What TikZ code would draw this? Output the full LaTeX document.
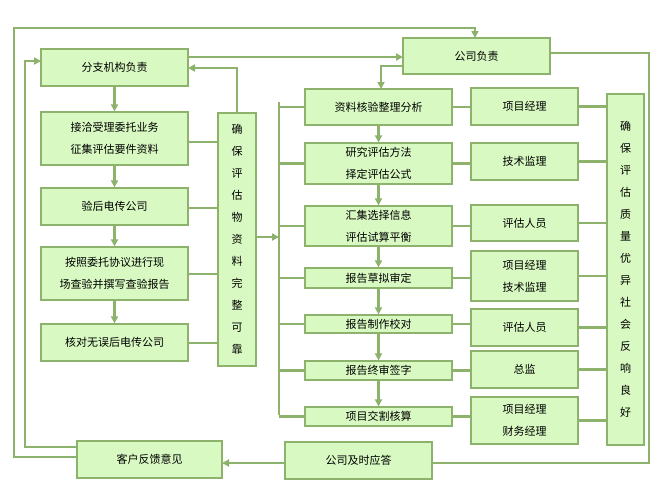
\documentclass[tikz,border=0pt]{standalone}
\usepackage{fontspec}
\setmainfont{Noto Sans CJK SC}
\usetikzlibrary{arrows.meta}
\definecolor{bfill}{HTML}{D8F9C2}
\definecolor{bline}{HTML}{8CB26C}
\tikzset{
 bx/.style={draw=bline,fill=bfill,line width=1.2pt,inner sep=0pt,align=center,font=\fontsize{11}{22}\selectfont},
 ln/.style={draw=bline,line width=2.2pt},
 ar/.style={ln,-{Triangle[length=7pt,width=7pt]}},
}
\newcommand{\bxat}[5]{\node[bx,minimum width=#3-#2,minimum height=#5-#4] (#1) at ({(#2+#3)/2},{(#4+#5)/2})}
\begin{document}
\begin{tikzpicture}[x=1pt,y=-1pt]
\useasboundingbox (0,0) rectangle (658,488);
% left
\bxat{a0}{41}{188}{49}{86}{分支机构负责};
\bxat{a1}{41}{188}{112}{165}{接洽受理委托业务\\征集评估要件资料};
\bxat{a2}{41}{188}{188}{225}{验后电传公司};
\bxat{a3}{41}{188}{247}{300}{按照委托协议进行现\\场查验并撰写查验报告};
\bxat{a4}{41}{188}{324}{361}{核对无误后电传公司};
\bxat{col}{218}{256}{113}{366}{\fontsize{11}{23}\selectfont 确\\保\\评\\估\\物\\资\\料\\完\\整\\可\\靠};
% middle
\bxat{gs}{403}{550}{38}{74}{公司负责};
\bxat{m1}{305}{452}{89}{125}{资料核验整理分析};
\bxat{m2}{305}{452}{143}{184}{\fontsize{11}{20}\selectfont 研究评估方法\\择定评估公式};
\bxat{m3}{305}{452}{206}{246}{\fontsize{11}{24}\selectfont 汇集选择信息\\评估试算平衡};
\bxat{m4}{305}{452}{268}{288}{报告草拟审定};
\bxat{m5}{305}{452}{315}{333}{报告制作校对};
\bxat{m6}{305}{452}{361}{380}{报告终审签字};
\bxat{m7}{305}{452}{407}{426}{项目交割核算};
% right
\bxat{r1}{471}{578}{88}{125}{项目经理};
\bxat{r2}{471}{578}{143}{180}{技术监理};
\bxat{r3}{471}{578}{205}{241}{评估人员};
\bxat{r4}{471}{578}{251}{301}{项目经理\\技术监理};
\bxat{r5}{471}{578}{309}{346}{评估人员};
\bxat{r6}{471}{578}{351}{388}{总监};
\bxat{r7}{471}{578}{397}{444}{项目经理\\财务经理};
\bxat{rc}{607}{644}{94}{445}{\fontsize{11}{18.5}\selectfont 确\\保\\评\\估\\质\\量\\优\\异\\社\\会\\反\\响\\良\\好};
% bottom
\bxat{kh}{77}{222}{441}{478}{客户反馈意见};
\bxat{yd}{285}{432}{442}{479}{公司及时应答};
% left chain
\draw[ar] (a0) -- (a1);
\draw[ar] (a1) -- (a2);
\draw[ar] (a2) -- (a3);
\draw[ar] (a3) -- (a4);
\foreach \n/\y in {a1/142,a2/208,a3/274,a4/343} \draw[ln] (188,\y) -- (218,\y);
\draw[ar] (col.north) -- (237,68) -- (188,68);
% middle chain
\draw[ar] (col.east |- 0,237) -- (279,237);
\draw[ln] (279,102) -- (279,415);
\foreach \n in {m1,m2,m3,m4,m5,m6,m7} \draw[ln] (279,0 |- \n.west) -- (\n.west);
\draw[ar] (m1) -- (m2);
\draw[ar] (m2) -- (m3);
\draw[ar] (m3) -- (m4);
\draw[ar] (m4) -- (m5);
\draw[ar] (m5) -- (m6);
\draw[ar] (m6) -- (m7);
\foreach \m/\r in {m1/r1,m2/r2,m3/r3,m4/r4,m5/r5,m6/r6,m7/r7} {
  \draw[ln] (\m.east) -- (\r.west |- \m.east);
  \draw[ln] (\r.east) -- (rc.west |- \r.east);
}
% top flows
\draw[ar] (188,57) -- (403,57);
\draw[ar] (403,66) -- (381,66) -- (381,89);
\draw[ln] (550,53) -- (649,53) -- (649,463) -- (432,463);
\draw[ar] (yd.west |- 0,463) -- (222,463);
\draw[ar] (77,447) -- (25,447) -- (25,61) -- (41,61);
\draw[ar] (77,457) -- (14,457) -- (14,28) -- (475,28) -- (475,38);
\end{tikzpicture}
\end{document}
